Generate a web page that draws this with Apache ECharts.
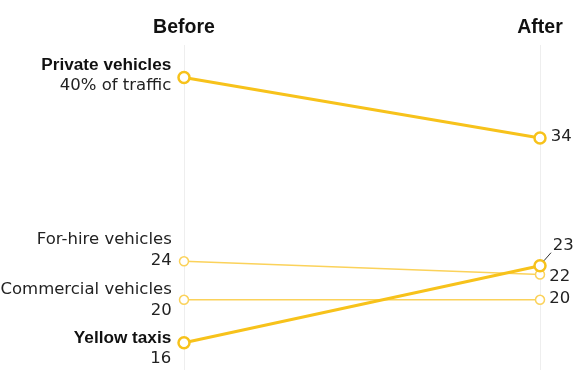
<!DOCTYPE html>
<html>
<head>
<meta charset="utf-8">
<script src="https://cdn.jsdelivr.net/npm/echarts@6/dist/echarts.min.js"></script>
<style>
html,body{margin:0;padding:0;background:#fff;}
#chart{width:579px;height:390px;}
</style>
</head>
<body>
<div id="chart"></div>
<script>
// ---- data ----
const categories = ['Before', 'After'];
const seriesNames = ['Private vehicles', 'For-hire vehicles', 'Commercial vehicles', 'Yellow taxis'];
const privateVehicles = [40.1, 34.6];
const forHireVehicles = [23.4, 22.2];
const commercialVehicles = [19.9, 19.9];
const yellowTaxis = [16, 23];
const beforeLabels = ['40% of traffic', '24', '20', '16'];
const afterLabels = ['34', '22', '20', '23'];

const HEAD_FONT = "'Liberation Sans', Arial, sans-serif";
const FONT = "'DejaVu Sans', sans-serif";
const THICK = '#f7c21b';
const THIN = '#fbd25a';

const values = [privateVehicles, forHireVehicles, commercialVehicles, yellowTaxis];
const bold = [true, false, false, true];
const leftOffsets = [[0, -2], [0, -11], [0, 0], [0, 6]];
const rightOffsets = [[0, -1], [0, 2], [0, -1], [2, -20]];

const drawOrder = [2, 1, 0, 3];
const series = drawOrder.map(function (i) {
  const thick = bold[i];
  const color = thick ? THICK : THIN;
  return {
    name: seriesNames[i],
    type: 'line',
    z: thick ? 5 : 3,
    symbol: 'circle',
    symbolSize: thick ? 11 : 9,
    showAllSymbol: true,
    lineStyle: { color: color, width: thick ? 3 : 1.5 },
    itemStyle: { color: '#fff', borderColor: color, borderWidth: thick ? 2.5 : 1.5 },
    emphasis: { disabled: true },
    silent: true,
    data: [
      {
        value: values[i][0],
        label: {
          show: true,
          position: 'left',
          distance: thick ? 6 : 7,
          offset: leftOffsets[i],
          formatter: '{n|' + seriesNames[i] + '}\n{v|' + beforeLabels[i] + '}',
          rich: {
            n: thick
              ? { fontFamily: HEAD_FONT, fontSize: 17.2, fontWeight: 'bold', color: '#111', lineHeight: 21, align: 'right' }
              : { fontFamily: FONT, fontSize: 16.5, fontWeight: 'normal', color: '#222', lineHeight: 21, align: 'right' },
            v: { fontFamily: FONT, fontSize: 16.5, fontWeight: 'normal', color: '#222', lineHeight: 21, align: 'right' }
          }
        }
      },
      {
        value: values[i][1],
        label: {
          show: true,
          position: 'right',
          distance: 4,
          offset: rightOffsets[i],
          formatter: afterLabels[i],
          fontFamily: FONT,
          fontSize: 16.5,
          color: '#222'
        }
      }
    ]
  };
});

const chart = echarts.init(document.getElementById('chart'), null, { renderer: 'canvas' });
chart.setOption({
  animation: false,
  backgroundColor: '#fff',
  grid: { left: 184, right: 39, top: 45, bottom: 20, containLabel: false },
  xAxis: {
    type: 'category',
    data: categories,
    position: 'top',
    boundaryGap: false,
    axisLine: { show: false },
    axisTick: { show: false },
    axisLabel: { fontFamily: HEAD_FONT, fontSize: 19.5, fontWeight: 'bold', color: '#111', margin: 7 },
    splitLine: { show: true, lineStyle: { color: '#eeeeee', width: 1 } }
  },
  yAxis: {
    type: 'value',
    min: 13.52,
    max: 43.06,
    show: false,
    splitLine: { show: false }
  },
  series: series
});

// leader line for the "23" label
const p = chart.convertToPixel({ seriesName: 'Yellow taxis' }, [1, yellowTaxis[1]]);
chart.setOption({
  graphic: [{
    type: 'line',
    shape: { x1: p[0] + 4, y1: p[1] - 5, x2: p[0] + 11, y2: p[1] - 13 },
    style: { stroke: '#333', lineWidth: 1 },
    z: 10
  }]
});
</script>
</body>
</html>
